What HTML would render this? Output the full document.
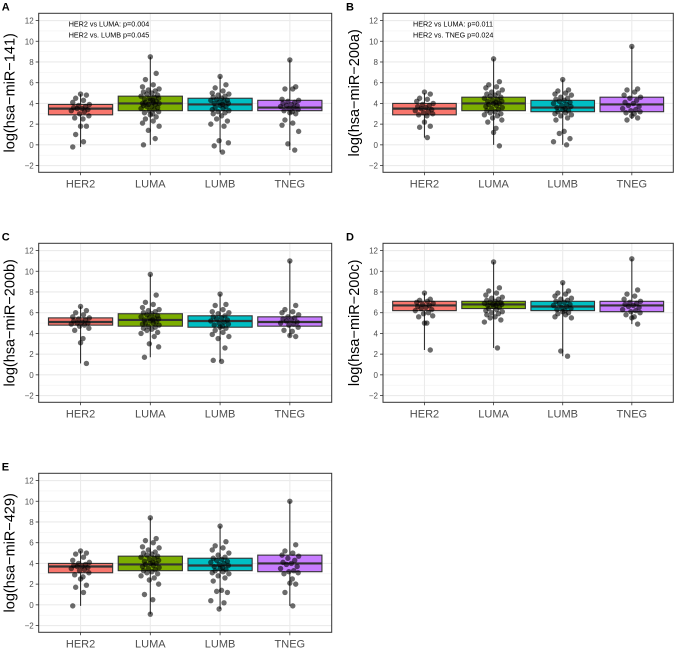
<!DOCTYPE html>
<html><head><meta charset="utf-8">
<style>
html,body{margin:0;padding:0;background:#fff;}
svg{display:block;font-family:"Liberation Sans",Arial,sans-serif;}
</style></head>
<body>
<svg id="chart" width="677" height="652" viewBox="0 0 677 652" xmlns="http://www.w3.org/2000/svg"></svg>
<script>
const categories = ["HER2","LUMA","LUMB","TNEG"];
const fills = ["#F8766D","#7CAE00","#00BFC4","#C77CFF"];
const yTicks = [-2,0,2,4,6,8,10,12];
const panelLetters = ["A","B","C","D","E"];
const yTitles = ["log(hsa\u2212miR\u2212141)","log(hsa\u2212miR\u2212200a)","log(hsa\u2212miR\u2212200b)","log(hsa\u2212miR\u2212200c)","log(hsa\u2212miR\u2212429)"];
const annotations = [["HER2 vs LUMA: p=0.004","HER2 vs. LUMB p=0.045"],["HER2 vs LUMA: p=0.011","HER2 vs. TNEG p=0.024"],[],[],[]];
// stats: [min, q1, median, q3, max]
const statsA = [[-0.2,2.9,3.5,3.9,4.9],[0,3.3,4.0,4.7,8.5],[-0.7,3.3,3.9,4.5,6.6],[-0.5,3.3,3.6,4.3,8.2]];
const statsB = [[0.7,2.9,3.5,4.0,5.0],[0,3.3,4.0,4.6,8.3],[0,3.2,3.6,4.3,6.3],[2.5,3.2,3.9,4.6,9.5]];
const statsC = [[1.1,4.8,5.1,5.5,6.6],[1.7,4.7,5.3,5.9,9.7],[1.3,4.6,5.2,5.7,7.8],[3.7,4.7,5.1,5.6,11.0]];
const statsD = [[2.4,6.2,6.7,7.1,7.9],[2.6,6.4,6.8,7.1,10.9],[1.8,6.2,6.6,7.1,8.9],[4.9,6.1,6.7,7.1,11.2]];
const statsE = [[-0.1,3.1,3.7,4.0,5.2],[-0.9,3.3,3.9,4.7,8.4],[-0.4,3.3,3.8,4.5,7.6],[-0.1,3.2,4.0,4.8,10.0]];
const ptsA = [
[4.9,4.8,4.5,4.3,4.1,3.9,3.8,3.7,3.6,3.5,3.5,3.4,3.3,3.2,3.0,2.8,2.6,2.5,1.8,1.8,1.0,0.3,-0.2],
[8.5,6.9,6.3,5.8,5.6,5.4,5.3,5.2,5.1,5.0,4.9,4.8,4.7,4.6,4.5,4.5,4.4,4.3,4.3,4.2,4.1,4.1,4.0,4.0,3.9,3.9,3.8,3.7,3.7,3.6,3.5,3.4,3.3,3.2,3.1,3.0,2.9,2.7,2.5,2.3,2.1,1.8,1.4,0.6,0.0],
[6.6,5.8,5.5,5.2,5.0,4.9,4.8,4.7,4.6,4.5,4.4,4.3,4.3,4.2,4.1,4.0,4.0,3.9,3.8,3.7,3.6,3.5,3.4,3.3,3.2,3.1,3.0,2.8,2.5,2.3,2.0,1.8,0.4,0.2,-0.1,-0.7],
[8.2,5.6,5.4,5.4,4.4,4.3,4.2,4.1,4.0,3.9,3.8,3.8,3.7,3.6,3.5,3.4,3.3,3.2,3.1,3.0,2.4,2.1,1.9,1.3,0.1,-0.5]];
const ptsB = [
[5.1,4.9,4.5,4.4,4.2,4.0,3.9,3.8,3.7,3.6,3.5,3.4,3.3,3.2,3.1,3.0,2.9,2.8,2.2,1.8,1.7,0.7],
[8.3,6.1,5.8,5.6,5.5,5.3,5.1,5.0,4.9,4.8,4.7,4.6,4.5,4.4,4.3,4.2,4.2,4.1,4.0,4.0,3.9,3.8,3.7,3.6,3.5,3.4,3.3,3.2,3.1,3.0,2.9,2.8,2.6,2.4,2.2,1.6,1.2,-0.1],
[6.3,5.3,5.2,5.0,4.9,4.8,4.6,4.5,4.4,4.3,4.2,4.1,4.0,3.9,3.8,3.7,3.6,3.5,3.4,3.3,3.2,3.1,3.0,2.9,2.8,2.6,2.4,1.3,1.1,0.6,0.3,0.0],
[9.5,5.4,5.3,5.1,4.8,4.6,4.5,4.3,4.1,4.0,3.8,3.7,3.5,3.4,3.3,3.2,3.1,3.0,2.8,2.6,2.4]];
const ptsC = [
[6.6,6.2,6.0,5.8,5.6,5.5,5.4,5.3,5.2,5.1,5.0,5.0,4.9,4.8,4.7,4.5,4.3,3.5,3.1,1.1],
[9.7,7.7,7.0,6.8,6.5,6.3,6.2,6.1,6.0,5.9,5.8,5.7,5.6,5.5,5.5,5.4,5.3,5.3,5.2,5.1,5.0,5.0,4.9,4.8,4.7,4.6,4.5,4.4,4.3,4.1,4.0,3.7,3.0,2.7,1.7],
[7.8,6.8,6.7,6.3,6.1,6.0,5.9,5.7,5.6,5.5,5.4,5.3,5.2,5.1,5.0,4.9,4.8,4.7,4.6,4.5,4.3,4.1,3.9,3.7,3.5,2.6,1.4,1.3],
[11.0,6.7,6.3,6.1,6.0,5.8,5.6,5.5,5.4,5.3,5.2,5.1,5.0,4.9,4.8,4.6,4.3,4.2,3.8,3.7]];
const ptsD = [
[7.9,7.3,7.2,7.1,7.0,6.9,6.8,6.7,6.6,6.5,6.4,6.3,6.2,6.0,5.9,5.7,5.6,5.0,5.0,2.4],
[10.9,8.4,8.1,7.9,7.7,7.5,7.4,7.3,7.2,7.1,7.0,7.0,6.9,6.9,6.8,6.8,6.7,6.7,6.6,6.5,6.4,6.3,6.2,6.1,6.0,5.9,5.8,5.6,5.5,5.3,5.1,2.6],
[8.9,8.1,7.9,7.8,7.6,7.4,7.3,7.2,7.1,7.0,6.9,6.8,6.7,6.6,6.5,6.4,6.3,6.2,6.1,6.0,5.9,5.8,5.6,5.5,2.3,1.8],
[11.2,8.2,7.8,7.6,7.3,7.1,7.0,6.9,6.8,6.7,6.6,6.5,6.3,6.2,6.1,6.0,5.8,5.6,5.5,4.9]];
const ptsE = [
[5.2,5.0,4.9,4.6,4.3,4.1,4.0,3.9,3.8,3.7,3.7,3.6,3.5,3.4,3.3,3.1,2.9,2.7,2.5,1.9,1.7,1.2,-0.1],
[8.4,6.4,6.2,6.0,5.6,5.5,5.3,5.1,5.0,4.9,4.8,4.7,4.6,4.5,4.4,4.3,4.2,4.1,4.0,4.0,3.9,3.8,3.7,3.6,3.5,3.4,3.3,3.2,3.1,3.0,2.8,2.6,2.4,2.0,1.0,0.5,-0.9],
[7.6,6.1,5.7,5.5,5.3,5.0,4.8,4.6,4.5,4.4,4.3,4.2,4.1,4.0,3.9,3.8,3.7,3.6,3.5,3.4,3.3,3.2,3.1,3.0,2.8,2.6,2.3,1.4,1.3,1.2,0.4,0.2,-0.4],
[10.0,5.8,5.2,5.0,4.8,4.7,4.5,4.3,4.1,4.0,3.9,3.7,3.5,3.3,3.2,3.1,3.0,2.5,2.1,2.0,1.2,-0.1]];

const allStats=[statsA,statsB,statsC,statsD,statsE];
const allPts=[ptsA,ptsB,ptsC,ptsD,ptsE];
const frames=[[38.7,13.3,331.7,172.3],[383,13.3,673.3,172.3],[38.7,243.3,331.7,402.3],[383,243.3,673.3,402.3],[38.7,473.3,331.7,632.3]];
const NS="http://www.w3.org/2000/svg";
const svg=document.getElementById('chart');
function mk(tag,attrs,parent){const e=document.createElementNS(NS,tag);for(const k in attrs)e.setAttribute(k,attrs[k]);(parent||svg).appendChild(e);return e;}
const Y_MIN=-2.65,Y_MAX=12.7;
const jit=[0,0.6,-0.5,0.3,-0.8,0.9,-0.2,0.5,-0.7,0.15,-0.35,0.75,-0.95,0.4,-0.1,0.85,-0.6,0.25];

allStats.forEach((stats,p)=>{
  const [L,T,R,B]=frames[p];
  const g=mk('g',{});
  
  
  const yS=v=>B-(v-Y_MIN)/(Y_MAX-Y_MIN)*(B-T);
  const unit=(R-L)/4.2;
  const xS=i=>L+(i+0.6)*unit;
  for(let v=-1;v<=11;v+=2) mk('line',{x1:L,x2:R,y1:yS(v),y2:yS(v),stroke:'#f2f2f2','stroke-width':0.6},g);
  yTicks.forEach(v=>mk('line',{x1:L,x2:R,y1:yS(v),y2:yS(v),stroke:'#ebebeb','stroke-width':1.1},g));
  categories.forEach((c,i)=>mk('line',{x1:xS(i),x2:xS(i),y1:T,y2:B,stroke:'#ebebeb','stroke-width':1.1},g));
  stats.forEach((s,i)=>{
    const cx=xS(i),hw=unit*0.46;
    const w=mk('line',{x1:cx,x2:cx,y1:yS(s[0]),y2:yS(s[4]),stroke:'#333','stroke-width':1.1},g);
    
    
    const r=mk('rect',{x:cx-hw,y:yS(s[3]),width:2*hw,height:yS(s[1])-yS(s[3]),fill:fills[i],stroke:'#333','stroke-width':1.1},g);
    
    
    mk('line',{x1:cx-hw,x2:cx+hw,y1:yS(s[2]),y2:yS(s[2]),stroke:'#333','stroke-width':2.2},g);
  });
  allPts[p].forEach((arr,i)=>{
    arr.forEach((v,k)=>{
      const c=mk('circle',{cx:xS(i)+jit[k%jit.length]*unit*0.14,cy:yS(v),r:2.7,fill:'rgba(0,0,0,0.58)'},g);
      
      
    });
  });
  mk('rect',{x:L,y:T,width:R-L,height:B-T,fill:'none',stroke:'#333','stroke-width':1},g);
  yTicks.forEach(v=>{
    mk('line',{x1:L-3,x2:L,y1:yS(v),y2:yS(v),stroke:'#333','stroke-width':0.8},g);
    const t=mk('text',{x:L-5,y:yS(v)+3,'text-anchor':'end','font-size':8,fill:'#4d4d4d'},g);
    t.textContent=v<0?'\u2212'+(-v):v;
    
    
  });
  categories.forEach((c,i)=>{
    mk('line',{x1:xS(i),x2:xS(i),y1:B,y2:B+3,stroke:'#333','stroke-width':0.8},g);
    const t=mk('text',{x:xS(i),y:B+15,'text-anchor':'middle','font-size':11,fill:'#4d4d4d'},g);
    t.textContent=c;
    
    
  });
  const yt=mk('text',{x:0,y:0,'text-anchor':'middle','font-size':14.5,fill:'#000',transform:`translate(${L-24},${(T+B)/2}) rotate(-90)`},g);
  yt.textContent=yTitles[p];
  
  
  const lt=mk('text',{x:L-37,y:T-3,'font-size':11,'font-weight':'bold',fill:'#000'},g);
  lt.textContent=panelLetters[p];
  
  
  annotations[p].forEach((a,k)=>{
    const at=mk('text',{x:L+30,y:T+13+k*11,'font-size':7.2,fill:'#000'},g);
    at.textContent=a;
    
    
  });
});
</script>
</body></html>
